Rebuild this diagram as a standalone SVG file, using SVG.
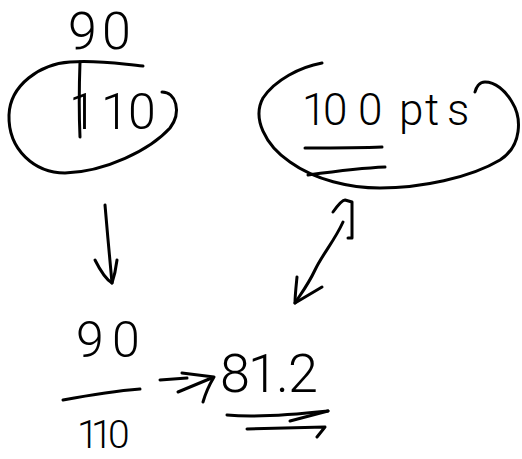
<svg xmlns="http://www.w3.org/2000/svg" width="522" height="459" viewBox="0 0 522 459">
<style>
.s{fill:none;stroke:#000;stroke-width:3;stroke-linecap:round;stroke-linejoin:round}
.t{font-family:Roboto,"Liberation Sans",sans-serif;font-weight:300;fill:#000}
</style>
<rect width="522" height="459" fill="#fff"/>
<g id="node-top-fraction">
<path class="s" d="M143,66 C120,64 100,60 70,62 C40,64 10,85 9,115 C8,150 35,173 65,173 C105,172 150,150 170,128 C182,112 176,92 162,92"/>
<path class="s" d="M80,62 C79,90 79,115 80,137"/>
<text class="t" font-size="52" x="68 102" y="49">90</text>
<text class="t" font-size="50" x="69 101 128" y="129">110</text>
</g>
<g id="node-points">
<path class="s" d="M322,63 C300,67 275,80 263,98 C252,118 265,145 290,162 C315,180 350,188 380,188 C420,188 470,178 500,160 C522,146 522,118 512,102 C505,90 495,82 485,82 C479,82 476,88 475,92"/>
<text class="t" font-size="44" x="302 323 358 399 425 447" y="125">100pts</text>
<path class="s" d="M305,148 C330,148 360,148 382,147"/>
<path class="s" d="M308,175 C330,172 360,168 385,167"/>
</g>
<g id="node-fraction">
<text class="t" font-size="50" x="76 112" y="357">90</text>
<path class="s" d="M63,400 C90,395 115,391 140,389"/>
<text class="t" font-size="39" x="77 91 108" y="448">110</text>
</g>
<g id="node-result">
<text class="t" font-size="54" x="220 248 276 288" y="392">81.2</text>
<path class="s" d="M227,415 C260,418 300,414 328,411"/>
<path class="s" d="M290,421 L328,411"/>
<path class="s" d="M247,429 L325,427 L317,437"/>
</g>
<g id="connectors">
<path class="s" d="M105,205 C107,230 110,260 112,283"/>
<path class="s" d="M95,260 C100,270 107,280 112,283 M117,260 C116,268 114,277 112,283"/>
<path class="s" d="M343,222 C335,240 322,255 315,270 C308,285 300,295 295,303"/>
<path class="s" d="M297,277 C296,287 295,296 295,303 L322,287"/>
<path class="s" d="M333,212 C338,205 342,200 345,200 L352,202 L352,238 L348,238"/>
<path class="s" d="M160,380 L187,378"/>
<path class="s" d="M182,373 L214,377 L178,392 M214,377 C208,387 205,395 203,402"/>
</g>
</svg>
